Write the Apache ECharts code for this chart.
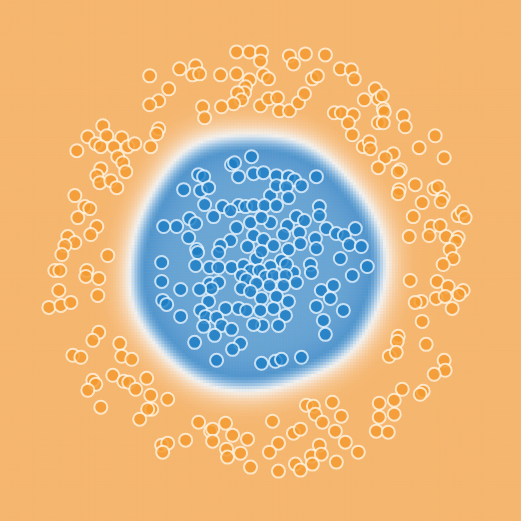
<!DOCTYPE html>
<html><head><meta charset="utf-8">
<script src="https://cdn.jsdelivr.net/npm/echarts@6/dist/echarts.min.js"></script>
<style>html,body{margin:0;padding:0;background:#F5B66F}#main{width:521px;height:521px;overflow:hidden}</style>
</head><body><div id="main"></div>
<script>
// class "outer" (orange) sample points [x, y]
const outerPoints = [
[150,76],[169,89],[159,101],[150,105],[159,129],[157,134],[103,126],[88,137],[107,136],[122,138],[96,144],[101,147],[114,147],[128,147],[135,144],[151,147],[77,151],[118,157],[123,163],[101,169],[126,172],[97,176],
[237,52],[250,52],[262,52],[261,61],[290,56],[294,64],[306,54],[326,55],[341,69],[180,69],[196,66],[193,75],[200,74],[221,75],[237,74],[250,80],[264,75],[269,79],[246,87],[313,79],[318,76],[245,93],[238,93],[242,100],[234,104],[222,107],[203,107],[205,118],[261,106],[269,99],[278,98],[280,111],[290,111],[299,103],[305,94],[335,113],[342,113],
[352,70],[355,79],[376,89],[365,100],[379,99],[383,96],[384,109],[385,112],[354,115],[349,123],[404,116],[406,127],[379,123],[384,123],[353,135],[436,136],[364,147],[370,142],[371,149],[420,148],[394,154],[386,158],[445,158],[379,168],[401,170],[399,172],
[100,183],[111,181],[117,188],[75,196],[85,207],[90,209],[78,218],[97,227],[91,235],[68,237],[75,243],[65,246],[62,255],[108,256],[55,271],[60,271],[87,271],[86,277],[99,279],[59,291],[98,296],[49,308],[61,306],[71,303],[99,333],[93,341],[120,344],
[416,185],[400,190],[399,194],[435,189],[439,187],[444,198],[442,202],[423,203],[414,217],[459,216],[463,212],[466,218],[432,227],[441,226],[430,236],[410,237],[447,237],[459,238],[457,242],[451,250],[454,259],[444,265],[411,281],[438,282],[449,287],[464,291],[460,295],[437,299],[446,297],[422,302],[416,303],[453,309],[423,322],[399,337],[398,342],[427,345],
[73,356],[81,358],[122,357],[132,360],[93,381],[96,385],[88,391],[113,376],[124,382],[129,383],[136,390],[147,379],[151,396],[152,410],[148,410],[168,400],[140,420],[101,408],[162,446],[168,444],[163,453],
[307,406],[314,407],[333,403],[316,415],[323,423],[342,417],[336,432],[346,443],[273,422],[294,434],[301,430],[199,423],[186,441],[211,432],[213,430],[213,442],[226,424],[233,436],[248,440],[227,450],[228,458],[241,454],[251,468],[279,444],[270,453],[296,465],[301,471],[279,472],[312,457],[320,446],[322,455],[313,465],[337,463],
[390,357],[397,353],[445,361],[446,371],[435,375],[403,390],[424,392],[421,395],[395,401],[380,404],[395,415],[380,418],[377,432],[389,433],[359,453]
];
// class "inner" (blue) sample points [x, y]
const innerPoints = [
[252,157],[232,165],[235,163],
[199,175],[204,177],[239,177],[254,174],[264,173],[277,176],[289,177],[295,180],[317,177],[184,190],[201,191],[209,188],[271,196],[277,186],[287,187],[289,198],[302,186],[205,205],[223,207],[239,206],[246,207],[254,206],[265,206],[277,206],[214,217],[231,211],[320,207],[320,216],[190,219],[196,224],[177,227],[189,238],[237,228],[251,223],[271,223],[262,218],[288,226],[297,217],[305,221],[300,233],[284,235],[327,229],[337,234],[345,236],[316,239],[317,249],[254,236],[264,240],[231,241],[221,246],[219,253],[248,247],[274,246],[289,250],[301,244],[197,250],[198,253],[196,266],[210,268],[219,268],[232,268],[244,266],[257,259],[262,252],[282,261],[271,267],[294,273],[287,265],[311,265],[312,273],[341,259],[251,271],[260,271],[242,276],[247,280],[266,277],[274,276],[286,276],[297,283],[284,286],[270,286],[257,284],[242,289],[210,284],[219,283],[212,289],[200,290],[181,290],[251,292],[262,299],[277,297],[289,302],[322,291],[334,286],[331,299],[317,307],[344,311],[209,302],[226,309],[239,309],[247,311],[261,311],[274,309],[286,316],[279,326],[263,326],[254,325],[201,311],[206,317],[217,318],[222,326],[204,327],[232,330],[181,317],[324,321],[326,335],[215,336],[195,343],[241,344],
[164,227],[162,263],[162,282],[163,301],[167,305],
[356,229],[350,245],[362,247],[368,267],[353,276],
[217,361],[233,350],[262,364],[276,362],[282,360],[302,358]
];
const surfaceColors = ['#F5B66F','#F5B66F','#F5B873','#F6BD7E','#F6C48C','#F7CDA0','#F7D8B7','#F5E6D6','#F2F1EF','#C6DCEE','#94BFE3','#6AA6D7','#5096CF','#5699D1','#5C9DD3','#63A2D5','#67A6D7'];
const bandwidth = 40, gain = 0.6, bias = 0.15;
const N = 174, span = 522, cell = span / N;

function classScore(x, y) {
  let sb = 0, so = 0;
  const k = 1 / (2 * bandwidth * bandwidth);
  for (const p of innerPoints) { const dx = p[0]-x, dy = p[1]-y; sb += Math.exp(-(dx*dx+dy*dy)*k); }
  for (const p of outerPoints) { const dx = p[0]-x, dy = p[1]-y; so += Math.exp(-(dx*dx+dy*dy)*k); }
  const L = Math.log(sb + 1e-300) - Math.log(so + 1e-300);
  return Math.tanh(gain * (L + bias));
}
const surface = [];
for (let i = 0; i < N; i++) for (let j = 0; j < N; j++) {
  surface.push([i, j, classScore((i + 0.5) * cell, (j + 0.5) * cell)]);
}
const cats = Array.from({length: N}, (_, k) => k);
const chart = echarts.init(document.getElementById('main'), null, {renderer: 'canvas'});
chart.setOption({
  animation: false,
  backgroundColor: '#F5B66F',
  grid: {left: 0, top: 0, width: span, height: span},
  xAxis: [
    {type: 'value', min: 0, max: span, show: false},
    {type: 'category', data: cats, show: false}
  ],
  yAxis: [
    {type: 'value', min: 0, max: span, inverse: true, show: false},
    {type: 'category', data: cats, inverse: true, show: false}
  ],
  visualMap: {type: 'continuous', min: -1, max: 1, show: false, seriesIndex: 0, inRange: {color: surfaceColors}},
  series: [
    {type: 'heatmap', xAxisIndex: 1, yAxisIndex: 1, data: surface, progressive: 0, silent: true},
    {type: 'scatter', data: outerPoints, symbolSize: 13,
     itemStyle: {color: '#F49A2E', borderColor: 'rgba(255,248,235,0.95)', borderWidth: 2}},
    {type: 'scatter', data: innerPoints, symbolSize: 13,
     itemStyle: {color: '#1C7DC4', borderColor: 'rgba(240,248,255,0.95)', borderWidth: 2}}
  ]
});
</script>
</body></html>
